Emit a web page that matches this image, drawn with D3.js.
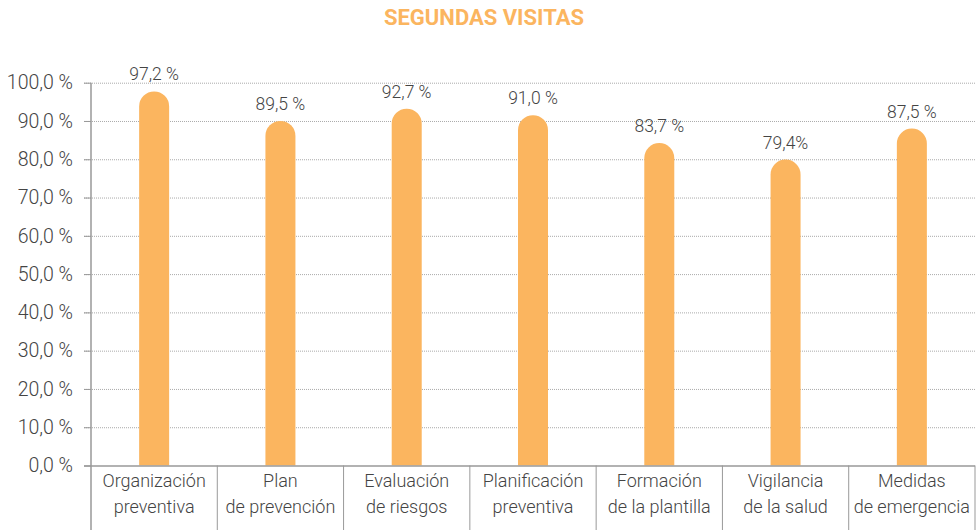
<!DOCTYPE html>
<html>
<head>
<meta charset="utf-8">
<script src="https://cdn.jsdelivr.net/npm/d3@7"></script>
<style>
  body { margin: 0; background: #fff; }
  text { font-family: Roboto, "Noto Sans", sans-serif; }
</style>
</head>
<body>
<svg id="chart" width="979" height="530"></svg>
<script>
// data
var categorias = [
  ["Organización", "preventiva"],
  ["Plan", "de prevención"],
  ["Evaluación", "de riesgos"],
  ["Planificación", "preventiva"],
  ["Formación", "de la plantilla"],
  ["Vigilancia", "de la salud"],
  ["Medidas", "de emergencia"]
];
var valores = [97.2, 89.5, 92.7, 91.0, 83.7, 79.4, 87.5];
var etiquetas = ["97,2 %", "89,5 %", "92,7 %", "91,0 %", "83,7 %", "79,4%", "87,5 %"];
var ticksY = [0, 10, 20, 30, 40, 50, 60, 70, 80, 90, 100];

var naranja = "#fbb55f";
var svg = d3.select("#chart");

var xScale = d3.scaleBand().domain(d3.range(valores.length)).range([91, 975]).padding(0);
var yScale = d3.scaleLinear().domain([0, 100]).range([465.5, 82.7]);

svg.append("text")
  .attr("x", 484).attr("y", 25)
  .attr("text-anchor", "middle")
  .attr("font-size", 22).attr("font-weight", "bold")
  .attr("fill", naranja)
  .text("SEGUNDAS VISITAS");

// gridlines (dotted)
svg.selectAll(".grid").data(ticksY.filter(d => d > 0)).enter()
  .append("line")
  .attr("x1", 84).attr("x2", 975)
  .attr("y1", d => yScale(d) + 0.5).attr("y2", d => yScale(d) + 0.5)
  .attr("stroke", "#aaa").attr("stroke-width", 1)
  .attr("stroke-dasharray", "1,1");

// y axis
var yAxis = d3.axisLeft(yScale).tickValues(ticksY).tickSize(7).tickPadding(11)
  .tickFormat(d => d3.format(".1f")(d).replace(".", ",") + " %");
var gy = svg.append("g").attr("transform", "translate(91,0)").call(yAxis);
gy.select(".domain").remove();
gy.selectAll(".tick line").attr("stroke", "#999");
gy.selectAll(".tick text").attr("font-size", 19.5).attr("fill", "#444")
  .attr("font-family", "Roboto, sans-serif").attr("font-weight", 300);

// bars with rounded tops
var bw = 30;
svg.selectAll(".bar").data(valores).enter()
  .append("path")
  .attr("fill", naranja)
  .attr("d", (d, i) => {
    var cx = xScale(i) + xScale.bandwidth() / 2;
    var x0 = cx - bw / 2, x1 = cx + bw / 2;
    var top = yScale(d) - 2, base = yScale(0), r = bw / 2;
    return "M" + x0 + "," + base + "L" + x0 + "," + (top + r) +
      "A" + r + "," + r + " 0 0 1 " + x1 + "," + (top + r) +
      "L" + x1 + "," + base + "Z";
  });

// value labels
svg.selectAll(".lbl").data(valores).enter()
  .append("text")
  .attr("x", (d, i) => xScale(i) + xScale.bandwidth() / 2)
  .attr("y", d => yScale(d) - 13)
  .attr("text-anchor", "middle")
  .attr("font-size", 17.5).attr("font-weight", 300).attr("fill", "#444")
  .text((d, i) => etiquetas[i]);

// x axis line, vertical axis and separators
svg.append("line").attr("x1", 84).attr("x2", 975)
  .attr("y1", yScale(0) + 0.5).attr("y2", yScale(0) + 0.5)
  .attr("stroke", "#999").attr("stroke-width", 1.5);
svg.append("line").attr("x1", 91).attr("x2", 91)
  .attr("y1", yScale(100)).attr("y2", 530)
  .attr("stroke", "#999").attr("stroke-width", 1.5);
svg.selectAll(".sep").data(d3.range(1, valores.length + 1)).enter()
  .append("line")
  .attr("x1", i => xScale(i - 1) + xScale.bandwidth()).attr("x2", i => xScale(i - 1) + xScale.bandwidth())
  .attr("y1", yScale(0)).attr("y2", 530)
  .attr("stroke", "#999").attr("stroke-width", 1);

// category labels
categorias.forEach((c, i) => {
  var t = svg.append("text")
    .attr("x", xScale(i) + xScale.bandwidth() / 2)
    .attr("text-anchor", "middle")
    .attr("font-size", 18).attr("font-weight", 300).attr("fill", "#444");
  t.append("tspan").attr("x", xScale(i) + xScale.bandwidth() / 2).attr("y", 487).text(c[0]);
  t.append("tspan").attr("x", xScale(i) + xScale.bandwidth() / 2).attr("y", 513).text(c[1]);
});
</script>
</body>
</html>
